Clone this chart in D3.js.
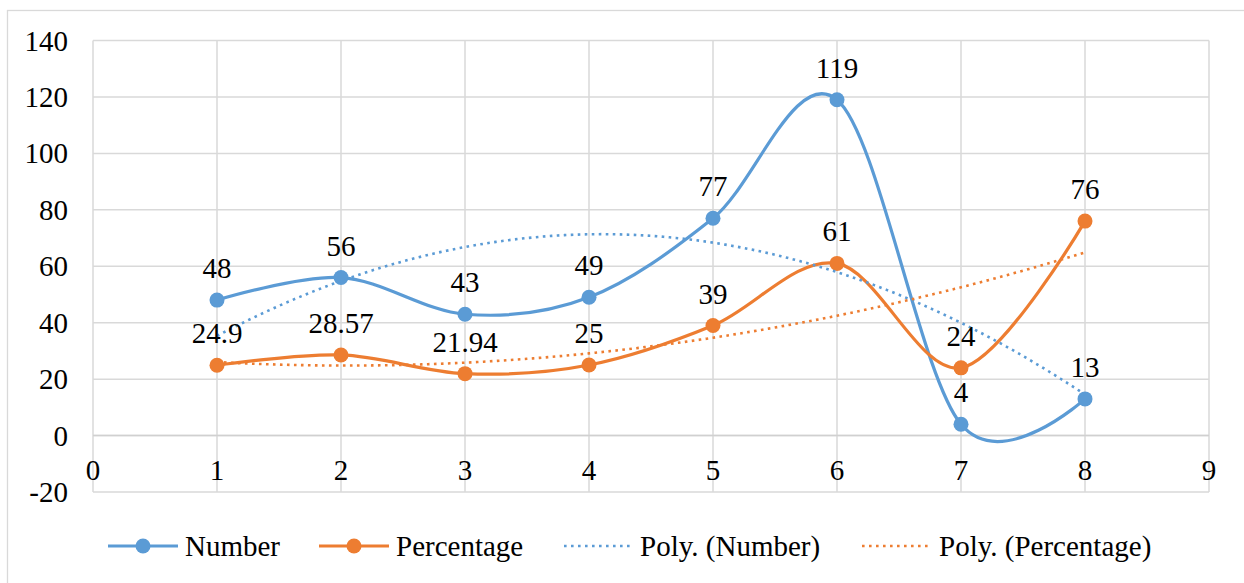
<!DOCTYPE html>
<html><head><meta charset="utf-8">
<script src="https://cdn.jsdelivr.net/npm/d3@7"></script>
</head>
<body style="margin:0">
<svg id="c" width="1244" height="583"></svg>
<script>
const xValues = [1, 2, 3, 4, 5, 6, 7, 8];
const numberValues = [48, 56, 43, 49, 77, 119, 4, 13];
const percentValues = [24.9, 28.57, 21.94, 25, 39, 61, 24, 76];
const numberLabels = ["48", "56", "43", "49", "77", "119", "4", "13"];
const percentLabels = ["24.9", "28.57", "21.94", "25", "39", "61", "24", "76"];
const xTicks = [0, 1, 2, 3, 4, 5, 6, 7, 8, 9];
const yTicks = [-20, 0, 20, 40, 60, 80, 100, 120, 140];
const seriesNames = ["Number", "Percentage", "Poly. (Number)", "Poly. (Percentage)"];

const blue = "#5B9BD5", orange = "#ED7D31", grid = "#D9D9D9";
const svg = d3.select("#c");
const fs = 29;

svg.append("rect").attr("x", 7.5).attr("y", 10.5).attr("width", 1300).attr("height", 700)
  .attr("fill", "none").attr("stroke", grid).attr("stroke-width", 1.3);

const L = 93, R = 1209, T = 40.5, B = 492;
const x = d3.scaleLinear().domain([0, 9]).range([L, R]);
const y = d3.scaleLinear().domain([-20, 140]).range([B, T]);

svg.selectAll("line.h").data(yTicks).enter().append("line").attr("class", "h")
  .attr("x1", L).attr("x2", R).attr("y1", d => y(d)).attr("y2", d => y(d))
  .attr("stroke", grid).attr("stroke-width", 1.5);
svg.selectAll("line.v").data(xTicks).enter().append("line").attr("class", "v")
  .attr("y1", T).attr("y2", B).attr("x1", d => x(d)).attr("x2", d => x(d))
  .attr("stroke", grid).attr("stroke-width", 1.5);
svg.append("line").attr("x1", L).attr("x2", R).attr("y1", y(0)).attr("y2", y(0))
  .attr("stroke", "#D0D0D0").attr("stroke-width", 1.5);

const texts = [];
yTicks.forEach(d => texts.push({t: String(d), x: 68, y: y(d) + 10, a: "end"}));
xTicks.forEach(d => texts.push({t: String(d), x: x(d), y: 480, a: "middle"}));

function polyFit(xs, ys) {
  const n = xs.length;
  let S = [0,0,0,0,0], Ty = [0,0,0];
  for (let i = 0; i < n; i++) {
    for (let k = 0; k < 5; k++) S[k] += Math.pow(xs[i], k);
    for (let k = 0; k < 3; k++) Ty[k] += Math.pow(xs[i], k) * ys[i];
  }
  const M = [[S[0],S[1],S[2],Ty[0]],[S[1],S[2],S[3],Ty[1]],[S[2],S[3],S[4],Ty[2]]];
  for (let i = 0; i < 3; i++) {
    for (let j = i + 1; j < 3; j++) {
      const f = M[j][i] / M[i][i];
      for (let k = i; k < 4; k++) M[j][k] -= f * M[i][k];
    }
  }
  const c = [0,0,0];
  for (let i = 2; i >= 0; i--) {
    let s = M[i][3];
    for (let k = i + 1; k < 3; k++) s -= M[i][k] * c[k];
    c[i] = s / M[i][i];
  }
  return t => c[0] + c[1]*t + c[2]*t*t;
}
const trendX = d3.range(1, 8.0001, 0.05);
const trendLine = d3.line().x(d => x(d[0])).y(d => y(d[1]));

function drawTrend(vals, color) {
  const f = polyFit(xValues, vals);
  svg.append("path").datum(trendX.map(t => [t, f(t)]))
    .attr("d", trendLine).attr("fill", "none").attr("stroke", color)
    .attr("stroke-width", 2.6).attr("stroke-dasharray", "2.6,4.4");
}

const smooth = d3.line().x(d => x(d[0])).y(d => y(d[1])).curve(d3.curveCardinal.tension(0));
function drawSeries(vals, color) {
  const pts = xValues.map((v, i) => [v, vals[i]]);
  svg.append("path").datum(pts).attr("d", smooth).attr("fill", "none")
    .attr("stroke", color).attr("stroke-width", 3.2).attr("stroke-linecap", "round");
  svg.selectAll("circle.m" + color.slice(1)).data(pts).enter().append("circle")
    .attr("class", "m" + color.slice(1))
    .attr("cx", d => x(d[0])).attr("cy", d => y(d[1])).attr("r", 7.5).attr("fill", color);
}

drawSeries(numberValues, blue);
drawSeries(percentValues, orange);
drawTrend(numberValues, blue);
drawTrend(percentValues, orange);
numberValues.forEach((v, i) => texts.push({t: numberLabels[i], x: x(xValues[i]), y: y(v) - 22, a: "middle"}));
percentValues.forEach((v, i) => texts.push({t: percentLabels[i], x: x(xValues[i]), y: y(v) - 22, a: "middle"}));

const ly = 546;
const legendItems = [
  {name: seriesNames[0], color: blue, x0: 108, x1: 178, marker: true, tx: 185},
  {name: seriesNames[1], color: orange, x0: 319, x1: 389, marker: true, tx: 396},
  {name: seriesNames[2], color: blue, x0: 564, x1: 630, marker: false, tx: 640},
  {name: seriesNames[3], color: orange, x0: 862, x1: 928, marker: false, tx: 939}
];
legendItems.forEach(it => {
  const ln = svg.append("line").attr("x1", it.x0).attr("x2", it.x1).attr("y1", ly).attr("y2", ly)
    .attr("stroke", it.color);
  if (it.marker) {
    ln.attr("stroke-width", 3.2);
    svg.append("circle").attr("cx", (it.x0 + it.x1) / 2).attr("cy", ly).attr("r", 7.5).attr("fill", it.color);
  } else {
    ln.attr("stroke-width", 2.6).attr("stroke-dasharray", "2.6,4.4");
  }
  texts.push({t: it.name, x: it.tx, y: ly + 10, a: "start"});
});

svg.selectAll("text").data(texts).enter().append("text")
  .attr("x", d => d.x).attr("y", d => d.y)
  .attr("font-size", fs).attr("font-family", d => "Liberation Serif")
  .attr("text-anchor", d => d.a)
  .text(d => d.t);
</script>
</body></html>
